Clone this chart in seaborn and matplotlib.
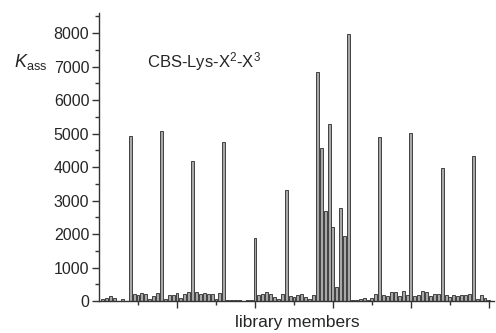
import numpy as np
import pandas as pd
import matplotlib
matplotlib.use("Agg")
import matplotlib.pyplot as plt
import seaborn as sns

# library member index 1..100, K_ass values
members = list(range(1, 101))

group_small = [
    [50, 90, 150, 100, 0, 60, 10],        # 1-7
    [200, 170, 230, 210, 50, 150, 230],   # 9-15
    [60, 180, 190, 240, 90, 200, 260],    # 17-23
    [260, 220, 240, 220, 210, 70, 230],   # 25-31
    [20, 30, 30, 20, 10, 40, 30],         # 33-39
    [180, 200, 260, 210, 120, 60, 200],   # 41-47
    [140, 120, 170, 210, 120, 60, 180],   # 49-55
    None,                                 # 57-63 (cluster)
    [30, 40, 60, 80, 40, 100, 200],       # 65-71
    [180, 150, 280, 260, 140, 300, 170],  # 73-79
    [150, 170, 300, 280, 160, 220, 200],  # 81-87
    [170, 130, 170, 150, 170, 190, 220],  # 89-95
]
group_peak = [4925, 5075, 4170, 4755, 1870, 3320, 6830, 7970,
              4905, 5025, 3980, 4330]
cluster = [4560, 2700, 5290, 2200, 410, 2770, 1950]
tail = [60, 180, 80, 40]

kass = []
for small, peak in zip(group_small, group_peak):
    kass += (small if small is not None else cluster) + [peak]
kass += tail

df = pd.DataFrame({"member": members, "kass": kass})

sns.set_style("ticks")
plt.rcParams["font.family"] = ["Liberation Sans", "DejaVu Sans"]
plt.rcParams["mathtext.fontset"] = "custom"
plt.rcParams["mathtext.rm"] = "Liberation Sans"
plt.rcParams["mathtext.it"] = "Liberation Sans:italic"

fig = plt.figure(figsize=(4.96, 3.33), dpi=100)
ax = fig.add_axes([99 / 496, 1 - 301 / 333, 395 / 496, 288 / 333])

sns.barplot(data=df, x="member", y="kass", native_scale=True, width=0.75,
            color="#a8a8a8", edgecolor="#2a2a2a", linewidth=0.6, ax=ax,
            saturation=1)

ax.set_xlim(0, 101.3)
ax.set_ylim(0, 8600)
ax.set_xticks(range(20, 101, 20))
ax.set_xticks(range(10, 100, 20), minor=True)
ax.set_xticklabels([])
ax.set_yticks(range(0, 8001, 1000))
ax.set_yticks(range(500, 8600, 1000), minor=True)
ax.tick_params(axis="both", which="major", direction="out", length=5,
               width=1, color="#333333", labelsize=11.5, pad=2)
ax.tick_params(axis="both", which="minor", direction="out", length=3,
               width=1, color="#333333")
for s in ["top", "right"]:
    ax.spines[s].set_visible(False)
for s in ["left", "bottom"]:
    ax.spines[s].set_color("#333333")
    ax.spines[s].set_linewidth(1)

ax.set_xlabel("")
ax.set_ylabel("")

# axis titles placed as in the original figure
fig.text(297 / 496, 1 - 327 / 333, "library members", fontsize=12.5,
         ha="center", va="baseline")
fig.text(14 / 496, 1 - 62 / 333, r"$K_{\mathrm{ass}}$", fontsize=13,
         va="center", ha="left")
ax.text(12.3, 7150, r"CBS-Lys-X$^{2}$-X$^{3}$", fontsize=12, va="center",
        ha="left")

fig.savefig("out.png", dpi=100)
